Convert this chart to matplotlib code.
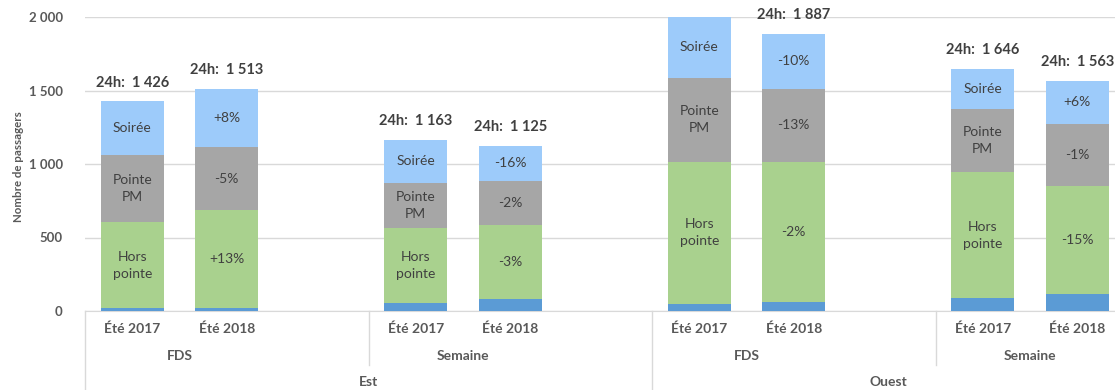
import matplotlib
matplotlib.use("Agg")
import matplotlib.pyplot as plt
from matplotlib.transforms import blended_transform_factory

plt.rcParams['font.family'] = ['Lato', 'DejaVu Sans']

# Category levels
regions = ["Est", "Ouest"]
periods = ["FDS", "Semaine"]
years = ["Été 2017", "Été 2018"]

# Bar order: Est FDS 2017/2018, Est Semaine 2017/2018, Ouest FDS 2017/2018, Ouest Semaine 2017/2018
base = [20, 22, 52, 84, 45, 63, 86, 118]
hors_pointe = [585, 662, 515, 498, 972, 953, 862, 735]
pointe_pm = [456, 434, 306, 300, 566, 492, 426, 421]
soiree = [365, 395, 290, 243, 421, 379, 272, 289]

segment_names = ["", "Hors\npointe", "Pointe\nPM", "Soirée"]
yticks = [0, 500, 1000, 1500, 2000]
ytick_labels = ["0", "500", "1 000", "1 500", "2 000"]

colors = ["#5B9BD5", "#A9D18E", "#A6A6A6", "#9DCBFA"]
text_dark = "#404040"
text_axis = "#595959"
grid_col = "#D9D9D9"

W, H, DPI = 1115, 390, 100
fig = plt.figure(figsize=(W / DPI, H / DPI), dpi=DPI)
ax = fig.add_axes([85 / W, 79 / H, (1124.5 - 85) / W, 294 / H])

# slot positions: each (region, period) pair gets two bars plus a spacer slot
xpos = [0, 1, 3, 4, 6, 7, 9, 10]
bar_w = 0.67
series = [base, hors_pointe, pointe_pm, soiree]

ymax = 2000
bottoms = [0] * len(xpos)
for si, vals in enumerate(series):
    ax.bar(xpos, vals, bar_w, bottom=bottoms, color=colors[si], zorder=2, linewidth=0)
    for i, (x, v, b) in enumerate(zip(xpos, vals, bottoms)):
        if si == 0:
            continue
        mid = b + v / 2
        if i % 2 == 0:
            label = segment_names[si]
        else:
            prev = vals[i - 1]
            pct = round((v / prev - 1) * 100)
            label = f"{pct:+d}%"
        ax.text(x, mid, label, ha="center", va="center", fontsize=10,
                color=text_dark, linespacing=1.5, zorder=3)
    bottoms = [b + v for b, v in zip(bottoms, vals)]

# 24h totals above each bar
for x, t in zip(xpos, bottoms):
    if t > ymax:
        continue
    ax.annotate(f"24h:  {t:,}".replace(",", " "), xy=(x, t), xytext=(0, 13.5),
                textcoords="offset points", ha="center", va="center",
                fontsize=10.5, fontweight="bold", color=text_dark,
                annotation_clip=False)

ax.set_xlim(-0.5, 10.5)
ax.set_ylim(0, ymax)
ax.set_yticks(yticks)
ax.set_yticklabels(ytick_labels)
ax.tick_params(axis="y", length=0, pad=16, labelsize=9.5, labelcolor=text_axis)
for lbl in ax.get_yticklabels():
    lbl.set_fontweight("bold")
ax.grid(axis="y", color=grid_col, linewidth=1, zorder=0)
ax.set_axisbelow(True)
for s in ["left", "right", "top"]:
    ax.spines[s].set_visible(False)
ax.spines["bottom"].set_color(grid_col)
ax.spines["bottom"].set_zorder(1)

ax.set_ylabel("Nombre de passagers", fontsize=8.3, fontweight="bold",
              color=text_axis)
ax.yaxis.set_label_coords(-61 / (1124.5 - 85), 0.49)

# multi-level category axis
ax.set_xticks(xpos)
ax.set_xticklabels(years * 4)
ax.tick_params(axis="x", length=0, pad=8, labelsize=10, labelcolor=text_axis)
for lbl in ax.get_xticklabels():
    lbl.set_fontweight("bold")

trans = blended_transform_factory(ax.transData, ax.transAxes)
px = 1.0 / 294
pairs = [(0, 1), (3, 4), (6, 7), (9, 10)]
for k, (a, b) in enumerate(pairs):
    ax.annotate(periods[k % 2], xy=((a + b) / 2, 0), xycoords=trans,
                xytext=(0, -32.5), textcoords="offset points", ha="center",
                va="center", fontsize=10, fontweight="bold", color=text_axis,
                annotation_clip=False)
region_spans = [(-0.5, 5.5), (5.5, 10.5)]
for name, (a, b) in zip(regions, region_spans):
    ax.annotate(name, xy=((a + b) / 2, 0), xycoords=trans,
                xytext=(0, -51), textcoords="offset points", ha="center",
                va="center", fontsize=10, fontweight="bold", color=text_axis,
                annotation_clip=False)

# separators between category groups
for x in [2.5, 8.5]:
    ax.plot([x, x], [0, -54 * px], transform=trans, color=grid_col,
            linewidth=1, clip_on=False)
for x in [-0.5, 5.5]:
    ax.plot([x, x], [0, -85 * px], transform=trans, color=grid_col,
            linewidth=1, clip_on=False)

fig.savefig("out.png", dpi=DPI)
